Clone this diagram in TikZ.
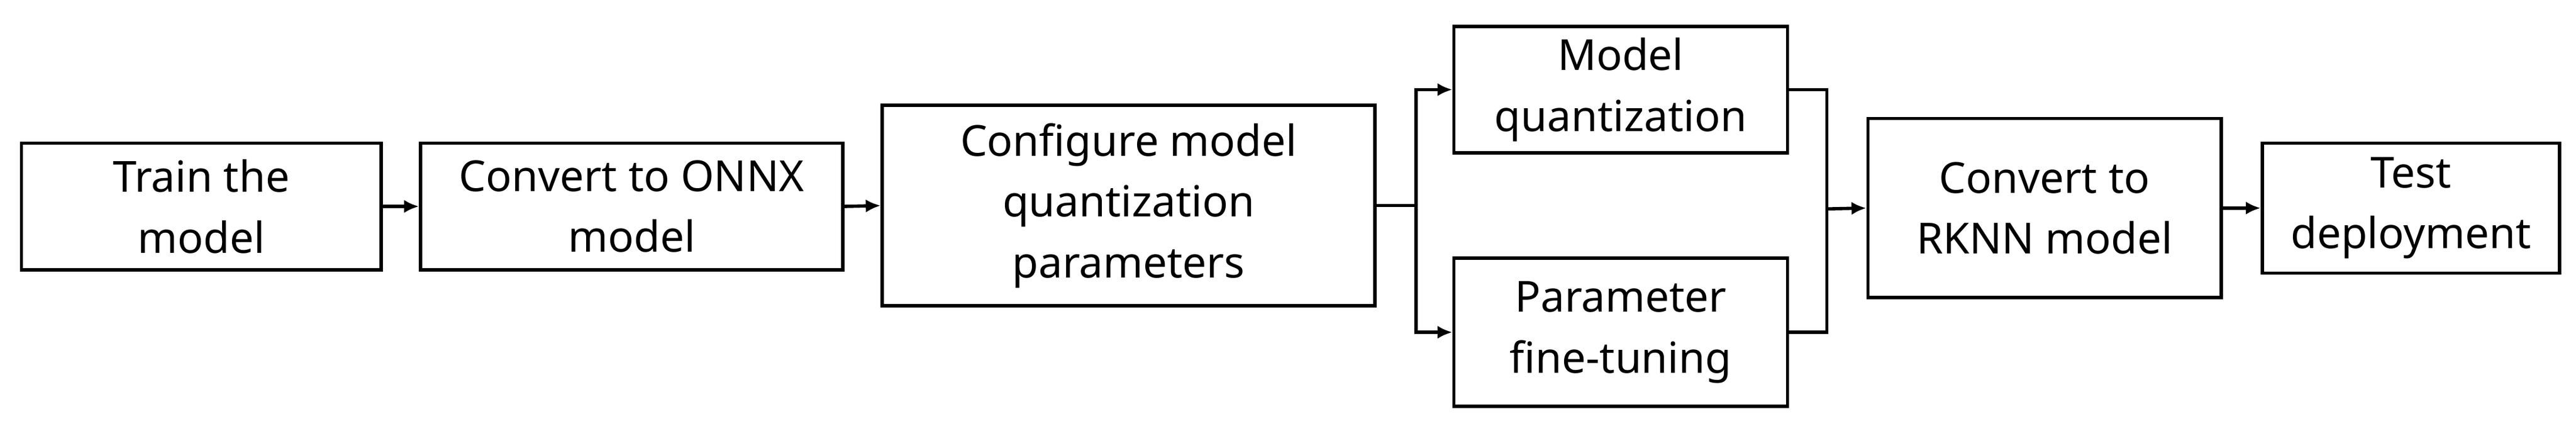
\documentclass[tikz,border=0pt]{standalone}
\usepackage{fontspec}
\setmainfont{Noto Sans}
\usetikzlibrary{arrows.meta}
\begin{document}
\begin{tikzpicture}[x=1pt,y=-1pt,
  box/.style={draw,line width=2pt,inner sep=0pt,align=center,font=\fontsize{26}{37}\selectfont},
  ln/.style={line width=2pt},
  ar/.style={ln,-{Latex[length=9pt,width=8pt]}}]
\useasboundingbox (0,0) rectangle (1568,262);
\node[box,minimum width=219pt,minimum height=77pt] (a) at (122.5,125.5) {Train the\\model};
\node[box,minimum width=257pt,minimum height=77pt] (b) at (384.5,125.5) {Convert to ONNX\\model};
\node[box,minimum width=300pt,minimum height=122pt] (c) at (687,125) {Configure model\\quantization\\parameters};
\node[box,minimum width=203pt,minimum height=77pt] (d) at (986.5,54.5) {Model\\quantization};
\node[box,minimum width=203pt,minimum height=90pt] (e) at (986.5,202) {Parameter\\fine-tuning};
\node[box,minimum width=215pt,minimum height=109pt] (f) at (1244.5,126.5) {Convert to\\RKNN model};
\node[box,minimum width=181pt,minimum height=79pt] (g) at (1467.5,126.5) {Test\\deployment};
\coordinate (j1) at (862,125);
\coordinate (j2) at (1112,127);
\draw[ar] (a.east) -- (b.west);
\draw[ar] (b.east) -- (c.west);
\draw[ln] (c.east) -- (j1);
\draw[ar] (j1) |- (d.west);
\draw[ar] (j1) |- (e.west);
\draw[ln] (d.east) -| (j2);
\draw[ln] (e.east) -| (j2);
\draw[ar] (j2) -- (f.west);
\draw[ar] (f.east) -- (g.west);
\end{tikzpicture}
\end{document}
